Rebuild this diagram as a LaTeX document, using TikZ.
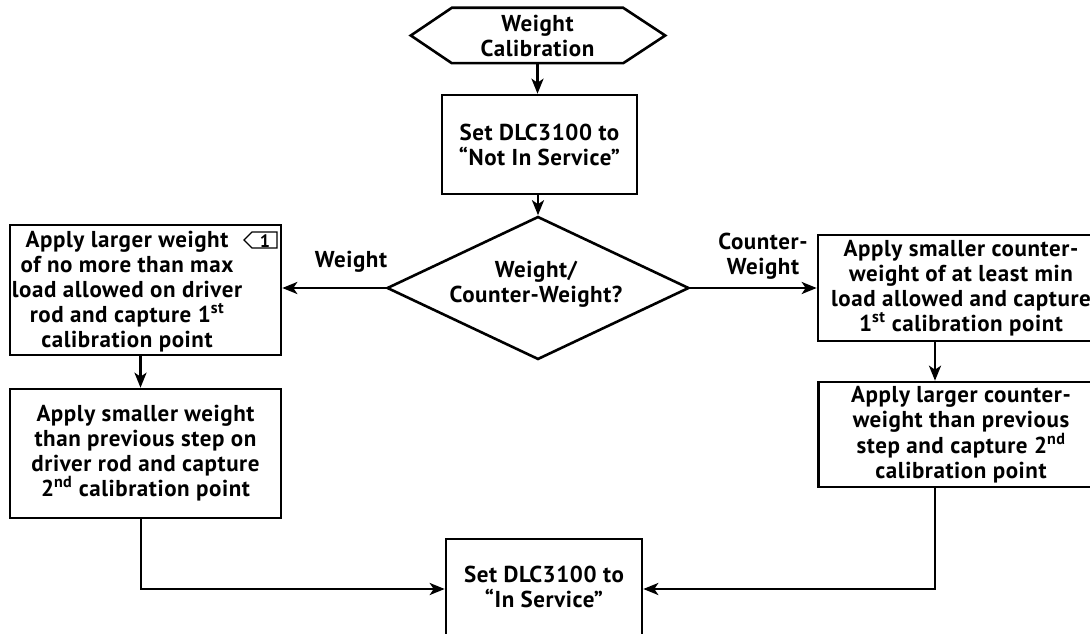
\documentclass[tikz,border=0pt]{standalone}
\usepackage{fontspec}
\setmainfont{PT Sans}[LetterSpace=2.5]
\usetikzlibrary{arrows.meta,shapes.geometric}
\begin{document}
\begin{tikzpicture}[x=1pt,y=-1pt,
  every node/.style={font=\fontsize{23}{25}\selectfont\bfseries},
  box/.style={draw,line width=2.6pt,rectangle,inner sep=0pt},
  txt/.style={align=center,inner sep=0pt},
  lbl/.style={align=center,inner sep=0pt},
  flow/.style={line width=2.6pt,-{Stealth[length=15pt,width=12pt,inset=4pt]}},
  link/.style={line width=2.6pt}]
\useasboundingbox (0,0) rectangle (1090,634);
\clip (0,0) rectangle (1090,634);
% start hexagon
\node[txt,minimum width=171pt,minimum height=55pt] (start) at (537.5,35.5) {Weight\\Calibration};
\draw[line width=2.6pt] (start.north west) -- (start.north east) -- ([xshift=42pt]start.east)
  -- (start.south east) -- (start.south west) -- ([xshift=-41pt]start.west) -- cycle;
% not in service
\node[box,txt,minimum width=195pt,minimum height=99pt] (nis) at (539.5,144.5) {Set DLC3100 to\\“Not In Service”};
% decision
\node[draw,line width=2.6pt,diamond,inner sep=0pt,aspect=2.11,minimum width=302pt,minimum height=143pt] (dec) at (538,288) {};
\node[txt] (dect) at (536,284) {Weight/\\Counter-Weight?};
% left boxes
\node[box,minimum width=271pt,minimum height=130pt] (lw1) at (145.5,290) {};
\node[txt] (lw1t) at (127,292) {Apply larger weight\\of no more than max\\load allowed on driver\\rod and capture 1\textsuperscript{st}\\calibration point};
\node[inner sep=0pt,font=\fontsize{18}{18}\selectfont\bfseries] (m1) at (265,241) {1};
\draw[line width=1.4pt] (244,240) -- (252,232) -- (277,232) -- (277,248) -- (252,248) -- cycle;
\node[box,txt,minimum width=271pt,minimum height=129pt] (lw2) at (145.5,453.5) {Apply smaller weight\\than previous step on\\driver rod and capture\\2\textsuperscript{nd} calibration point};
% right boxes
\node[box,txt,minimum width=286pt,minimum height=106pt] (rc1) at (961,288) {Apply smaller counter-\\weight of at least min\\load allowed and capture\\1\textsuperscript{st} calibration point};
\node[box,txt,minimum width=285pt,minimum height=105pt] (rc2) at (961,434.5) {Apply larger counter-\\weight than previous\\step and capture 2\textsuperscript{nd}\\calibration point};
% in service
\node[box,minimum width=196pt,minimum height=120pt] (ins) at (544,599) {};
\node[txt] (inst) at (544,587) {Set DLC3100 to\\“In Service”};
% labels
\node[lbl] (lw) at (351,262) {Weight};
\node[lbl] (lc) at (763,256) {Counter-\\Weight};
% connectors
\draw[flow] (start.south) -- (start.south |- nis.north);
\draw[flow] (nis.south -| dec.north) -- (dec.north);
\draw[flow] (dec.west) -- (dec.west -| lw1.east);
\draw[flow] (dec.east) -- (dec.east -| rc1.west);
\draw[flow] ([xshift=-5pt]lw1.south) -- ([xshift=-5pt]lw2.north);
\draw[flow] ([xshift=-26pt]rc1.south) -- ([xshift=-26pt]rc2.north);
\draw[flow] ([xshift=-4.5pt]lw2.south) |- ([yshift=-2pt]inst.west -| ins.west);
\draw[flow] ([xshift=-26pt]rc2.south) |- ([yshift=-2pt]inst.east -| ins.east);
\end{tikzpicture}
\end{document}
